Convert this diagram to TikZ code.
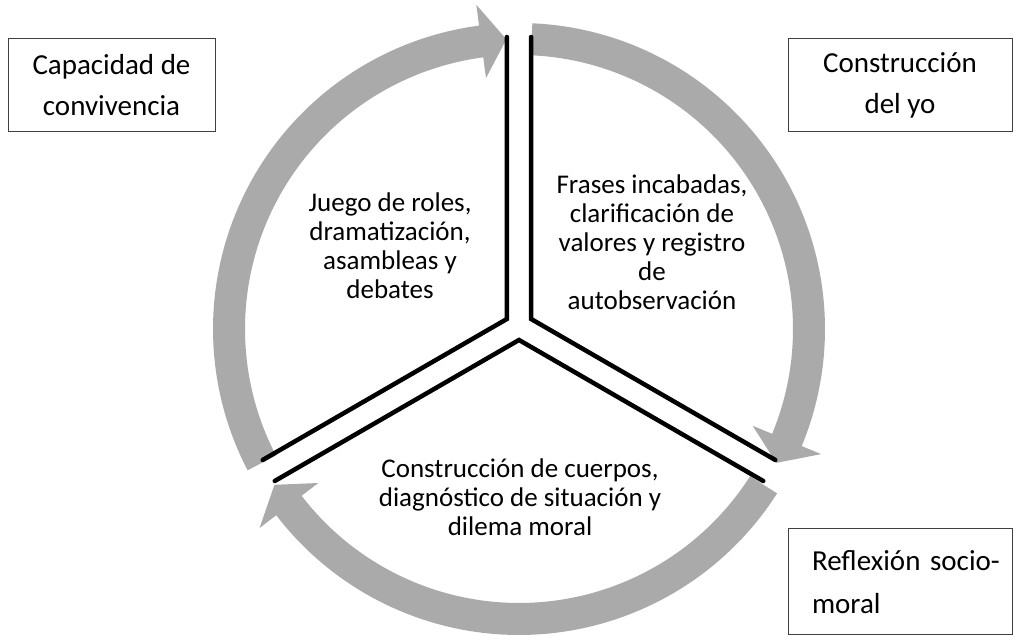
\documentclass[tikz,border=0pt]{standalone}
\usepackage{fontspec}
\setmainfont{Carlito}
\usetikzlibrary{calc}
\definecolor{ringgray}{RGB}{170,170,170}
\definecolor{boxline}{RGB}{64,64,64}
\newcommand\cyclearrow[2]{%
 \fill[ringgray] ($(R)+(#1:306)$) arc[start angle=#1, end angle=#2+5, radius=306]
   -- ($(R)+(#2+5:327)$) -- ($(R)+(#2:290)$) -- ($(R)+(#2+5:253)$)
   -- ($(R)+(#2+5:274)$) arc[start angle=#2+5, end angle=#1, radius=274] -- cycle;}
\begin{document}
\begin{tikzpicture}[x=1pt,y=1pt,
  boxtext/.style={draw=boxline, line width=1pt, font=\fontsize{29}{41}\selectfont, align=center, inner sep=0pt},
  bodytext/.style={font=\fontsize{27}{29}\selectfont, align=center},
  divider/.style={line width=4.5pt, line join=miter, line cap=round}]
\useasboundingbox (0,0) rectangle (1013,636);
\coordinate (R) at (519,307);
% arrows
\cyclearrow{207.5}{92.5}
\cyclearrow{87.5}{-27.5}
\cyclearrow{-32.5}{-147.5}
% sector apexes and edge ends
\coordinate (A1) at (506.9,317);
\coordinate (A2) at (531.1,317);
\coordinate (A3) at (519,296);
\coordinate (A1t) at ($(A1)+(90:282)$);
\coordinate (A1b) at ($(A1)+(210:282)$);
\coordinate (A2t) at ($(A2)+(90:282)$);
\coordinate (A2b) at ($(A2)+(330:282)$);
\coordinate (A3l) at ($(A3)+(210:282)$);
\coordinate (A3r) at ($(A3)+(330:282)$);
\draw[divider] (A1t) -- (A1) -- (A1b);
\draw[divider] (A2t) -- (A2) -- (A2b);
\draw[divider] (A3l) -- (A3) -- (A3r);
% inner texts
\node[bodytext] (roles) at (390,390) {Juego de roles,\\dramatización,\\asambleas y\\debates};
\node[bodytext] (frases) at (652,394) {Frases incabadas,\\clarificación de\\valores y registro\\de\\autobservación};
\node[bodytext] (cuerpos) at (520,139) {Construcción de cuerpos,\\diagnóstico de situación y\\dilema moral};
% boxes
\node[boxtext, minimum width=207, minimum height=93] (conv) at (111.5,550.5) {Capacidad de\\convivencia};
\node[boxtext, minimum width=224, minimum height=93] (yo) at (900,550.5) {Construcción\\del yo};
\node[boxtext, minimum width=224, minimum height=106, align=left, text width=204, font=\fontsize{29}{43}\selectfont] (socio) at (900,54) {\hspace*{14pt}Reflexión socio-\\\hspace*{14pt}moral};
\end{tikzpicture}
\end{document}
